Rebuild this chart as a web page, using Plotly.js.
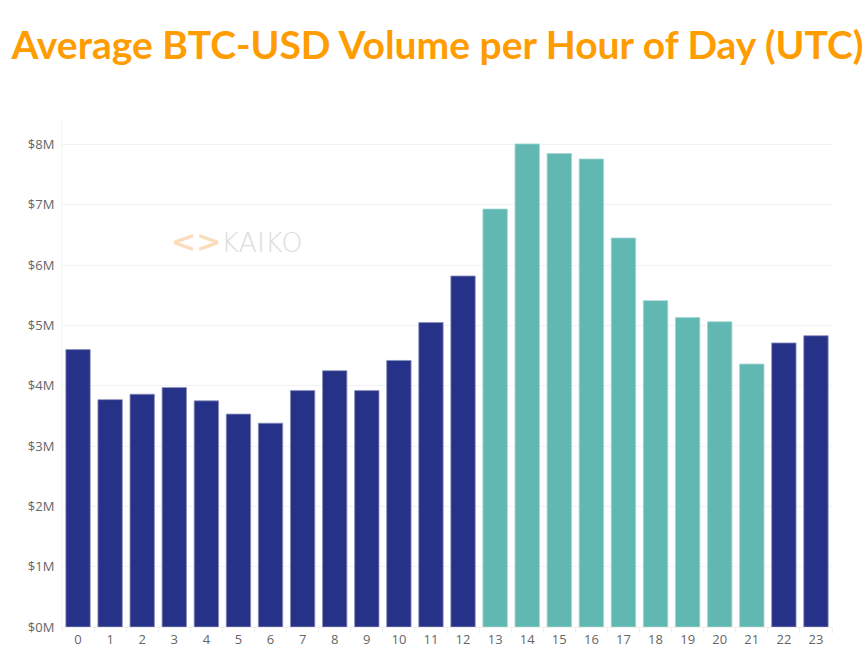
<!DOCTYPE html>
<html>
<head>
<meta charset="utf-8">
<script src="https://cdn.plot.ly/plotly-3.0.1.min.js"></script>
<style>
  html, body { margin: 0; padding: 0; background: #fff; }
  #chart { width: 868px; height: 672px; }
</style>
</head>
<body>
<div id="chart"></div>
<script>
// hour of day (UTC)
const hours = ["0","1","2","3","4","5","6","7","8","9","10","11",
               "12","13","14","15","16","17","18","19","20","21","22","23"];

// average volume, millions of USD
const volumeM = [4.60, 3.77, 3.86, 3.97, 3.75, 3.53, 3.38, 3.92, 4.25, 3.92, 4.42, 5.05,
                 5.82, 6.93, 8.01, 7.85, 7.76, 6.45, 5.41, 5.13, 5.06, 4.36, 4.71, 4.83];

// which hours are highlighted (US session)
const highlighted = [0,0,0,0,0,0,0,0,0,0,0,0,
                     0,1,1,1,1,1,1,1,1,1,0,0];

const yTicks = [0, 1, 2, 3, 4, 5, 6, 7, 8];

const navy = "#263287";
const teal = "#61b8b2";

const barColors = highlighted.map(h => h ? teal : navy);
const lineColors = highlighted.map(h => h ? "#9fd4d0" : "#8a90bd");

const trace = {
  type: "bar",
  x: hours,
  y: volumeM,
  marker: { color: barColors, line: { color: lineColors, width: 0.8 } },
  hoverinfo: "x+y"
};

const layout = {
  width: 868,
  height: 672,
  margin: { l: 62, r: 36, t: 118, b: 45 },
  paper_bgcolor: "#fff",
  plot_bgcolor: "#fff",
  showlegend: false,
  bargap: 0.24,
  title: {
    text: "Average BTC-USD Volume per Hour of Day (UTC)",
    font: { family: "Lato, 'Open Sans', sans-serif", size: 39, color: "#ff9c00", weight: 700 },
    x: 0.504,
    xanchor: "center",
    y: 0.933,
    yanchor: "middle"
  },
  xaxis: {
    type: "category",
    tickfont: { family: "'Open Sans', Lato, sans-serif", size: 13, color: "#666" },
    showgrid: false,
    ticks: "outside",
    ticklen: 5,
    tickcolor: "#eeeeee",
    tickson: "boundaries",
    showline: true,
    linecolor: "#f0f0f0",
    linewidth: 1
  },
  yaxis: {
    range: [0, 8.44],
    tickvals: yTicks,
    ticktext: yTicks.map(v => "$" + v + "M"),
    tickfont: { family: "'Open Sans', Lato, sans-serif", size: 13, color: "#666" },
    gridcolor: "#f2f2f2",
    gridwidth: 1,
    zeroline: false,
    showline: true,
    linecolor: "#f5f5f5",
    ticks: "",
    ticklabelstandoff: 4
  },
  annotations: [
    {
      xref: "paper", yref: "paper",
      x: 0.226, y: 0.757,
      xanchor: "center", yanchor: "middle",
      showarrow: false,
      text: "<span style='color:#fbdcbc;font-size:30px'><b>&lt;&gt;</b></span>KAIKO",
      font: { family: "'DejaVu Sans', Lato, sans-serif", size: 27, color: "#dddddd", weight: 300 }
    }
  ]
};

Plotly.newPlot("chart", [trace], layout, { displayModeBar: false, staticPlot: true });
</script>
</body>
</html>
